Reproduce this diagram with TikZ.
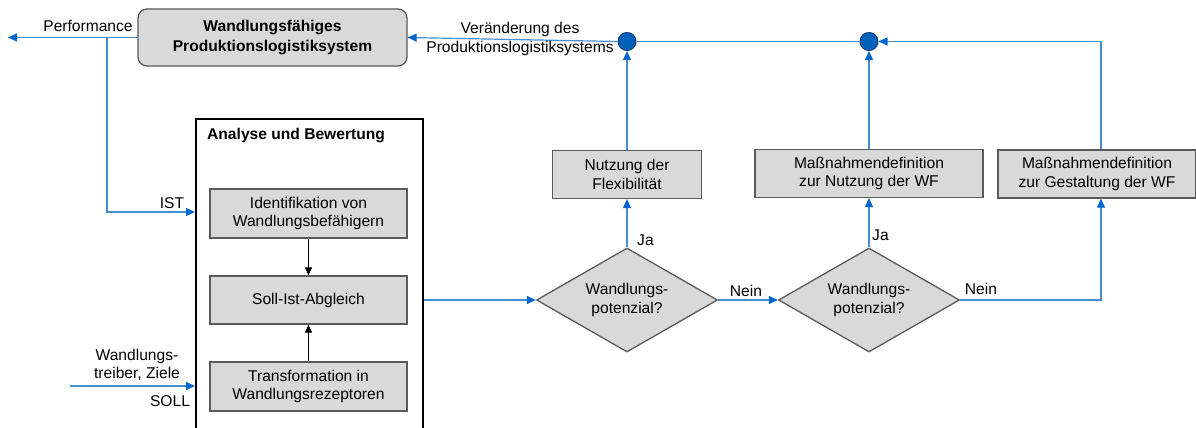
\documentclass[tikz,border=0pt]{standalone}
\usepackage{fontspec}
\setmainfont{Liberation Sans}
\usetikzlibrary{arrows.meta,shapes.geometric}
\definecolor{lineblue}{RGB}{72,140,210}
\definecolor{tipblue}{RGB}{0,102,204}
\definecolor{dotblue}{RGB}{0,98,186}
\definecolor{dotedge}{RGB}{20,66,130}
\definecolor{boxgray}{RGB}{217,217,217}
\definecolor{boxedge}{RGB}{90,90,90}
\tikzset{
  txt/.style={font=\fontsize{15.6}{18.5}\selectfont, inner sep=0pt, align=center},
  procbox/.style={txt, draw=boxedge, line width=1.3pt, fill=boxgray},
  decision/.style={txt, diamond, draw=boxedge, line width=1.3pt, fill=boxgray,
    minimum width=181pt, minimum height=104pt, aspect=1.74},
  junction/.style={circle, draw=dotedge, line width=1pt, fill=dotblue, minimum size=18pt, inner sep=0pt},
  flow/.style={draw=lineblue, line width=1.2pt},
  flowarrow/.style={flow, -{Triangle[width=8pt,length=9pt,color=tipblue]}},
  blackarrow/.style={draw=black, line width=1pt, -{Triangle[width=7pt,length=8pt]}},
}
\begin{document}
\begin{tikzpicture}[x=1pt,y=-1pt]
\clip (0,0) rectangle (1196,428);
\fill[white] (0,0) rectangle (1196,428);

% system under observation
\node[procbox, rounded corners=9pt, minimum width=269pt, minimum height=57pt,
  font=\fontsize{15.6}{20}\selectfont\bfseries] (sys) at (272.5,37.5)
  {Wandlungsfähiges\\Produktionslogistiksystem};

% analysis frame
\node[draw=black, line width=1.5pt, minimum width=227pt, minimum height=330pt, anchor=north west]
  (ana) at (195,118) {};
\node[txt, font=\fontsize{15.6}{18.5}\selectfont\bfseries, anchor=west] (anatitle) at (207,135) {Analyse und Bewertung};
\node[procbox, minimum width=197pt, minimum height=49pt] (ident) at (308.5,213.5) {Identifikation von\\Wandlungsbefähigern};
\node[procbox, minimum width=197pt, minimum height=48pt] (soll) at (308.5,300) {Soll-Ist-Abgleich};
\node[procbox, minimum width=197pt, minimum height=49pt] (trans) at (308.5,386.5) {Transformation in\\Wandlungsrezeptoren};
\draw[blackarrow] (ident) -- (soll);
\draw[blackarrow] (trans) -- (soll);

% decisions
\node[decision] (d1) at (627,300) {Wandlungs-\\potenzial?};
\node[decision] (d2) at (869,300) {Wandlungs-\\potenzial?};

% measures
\node[procbox, minimum width=149pt, minimum height=48pt] (b1) at (627,174.5) {Nutzung der\\Flexibilität};
\node[procbox, minimum width=228pt, minimum height=48pt] (b2) at (869,173.5) {Maßnahmendefinition\\zur Nutzung der WF};
\node[procbox, minimum width=198pt, minimum height=48pt] (b3) at (1097,174) {Maßnahmendefinition\\zur Gestaltung der WF};

% junctions
\node[junction] (c1) at (627,41.5) {};
\node[junction] (c2) at (869,41.5) {};

% free ends
\coordinate (perfend) at (8,37.5);
\coordinate (istsrc) at (107,37.5);
\coordinate (sollsrc) at (70,386);
\coordinate (anaout) at (424,300);
\coordinate (b3turn) at (1101,41.5);

% feedback and inputs
\draw[flowarrow] (sys.west) -- (perfend);
\draw[flowarrow] (istsrc) |- (ana.west |- 0,212);
\draw[flowarrow] (sollsrc) -- (ana.west |- sollsrc);
\draw[flowarrow] (anaout) -- (d1.west);
\draw[flowarrow] (d1.east) -- (d2.west);
\draw[flowarrow] (d1.north) -- (b1.south);
\draw[flowarrow] (d2.north) -- (b2.south);
\draw[flowarrow] (d2.east) -| (b3turn |- b3.south);
\draw[flowarrow] (b1.north) -- (c1.south);
\draw[flowarrow] (b2.north) -- (c2.south);
\draw[flowarrow] (b3turn |- b3.north) -- (b3turn) -- (c2.east);
\draw[flow] (c2.west) -- (c1.east);
\draw[flowarrow] (c1.west) -- (sys.east);

% labels
\node[txt] (lperf) at (88,26) {Performance};
\node[txt] (list) at (172,203) {IST};
\node[txt] (ldrv) at (137,365) {Wandlungs-\\treiber, Ziele};
\node[txt] (lsoll) at (170,401) {SOLL};
\node[txt] (lchg) at (520,39) {Veränderung des\\Produktionslogistiksystems};
\node[txt, anchor=west] (ja1) at (637,240) {Ja};
\node[txt, anchor=west] (ja2) at (872,235) {Ja};
\node[txt] (nein1) at (746,291) {Nein};
\node[txt] (nein2) at (981,289) {Nein};
\end{tikzpicture}
\end{document}
